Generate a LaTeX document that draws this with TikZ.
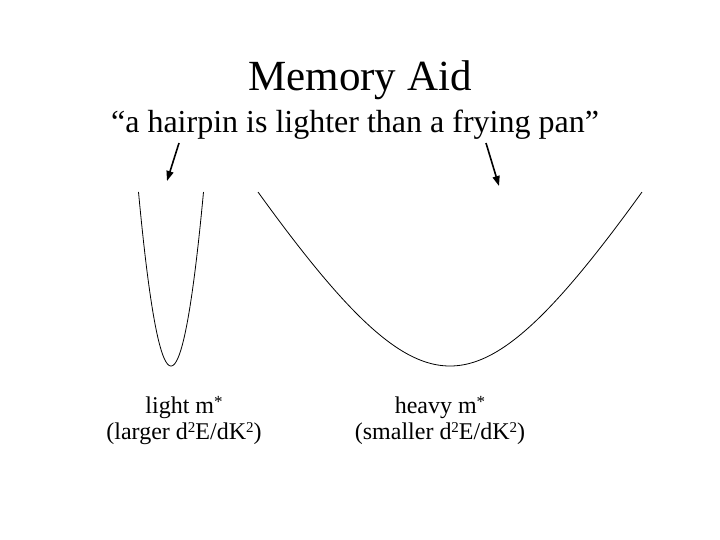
\documentclass[tikz,border=0pt]{standalone}
\usepackage{fontspec}
\setmainfont{Liberation Serif}
\usetikzlibrary{arrows.meta}
\newcommand{\supsq}{\raisebox{6.5pt}{\fontsize{15}{15}\selectfont 2}}
\newcommand{\supst}{\raisebox{5.5pt}{\fontsize{17}{17}\selectfont *}}
\begin{document}
\begin{tikzpicture}[x={(1pt,0)}, y={(0,-1pt)},
  title/.style={font=\fontsize{43}{48}\selectfont, anchor=base, inner sep=0pt},
  subtitle/.style={font=\fontsize{32}{36}\selectfont, anchor=base, inner sep=0pt},
  label/.style={font=\fontsize{24}{28}\selectfont, anchor=base, inner sep=0pt},
  pointer/.style={line width=1.6pt, -{Triangle[length=10pt,width=7pt]}},
  band/.style={line width=0.8pt, line join=round}]
\useasboundingbox (0,0) rectangle (720,540);
\node[title] (t) at (360,91) {Memory Aid};
\node[subtitle] (s) at (355,133) {“a hairpin is lighter than a frying pan”};
\coordinate (a1s) at (179,143);
\coordinate (a1e) at (167,181);
\coordinate (a2s) at (486,143);
\coordinate (a2e) at (499,186);
\draw[pointer] (a1s) -- (a1e);
\draw[pointer] (a2s) -- (a2e);
\draw[band, domain=-32.5:32.5, samples=100] plot ({171+\x}, {366-174*(\x/32.5)^2});
\draw[band, domain=-192:192, samples=150] plot ({450+\x}, {366-196.2*(sqrt(1+(\x/120)^2)-1)});
\node[label] (l1) at (184,413) {light m\supst};
\node[label] (l2) at (184,439) {(larger d\supsq E/dK\supsq)};
\node[label] (r1) at (440,413) {heavy m\supst};
\node[label] (r2) at (440,439) {(smaller d\supsq E/dK\supsq)};
\end{tikzpicture}
\end{document}
